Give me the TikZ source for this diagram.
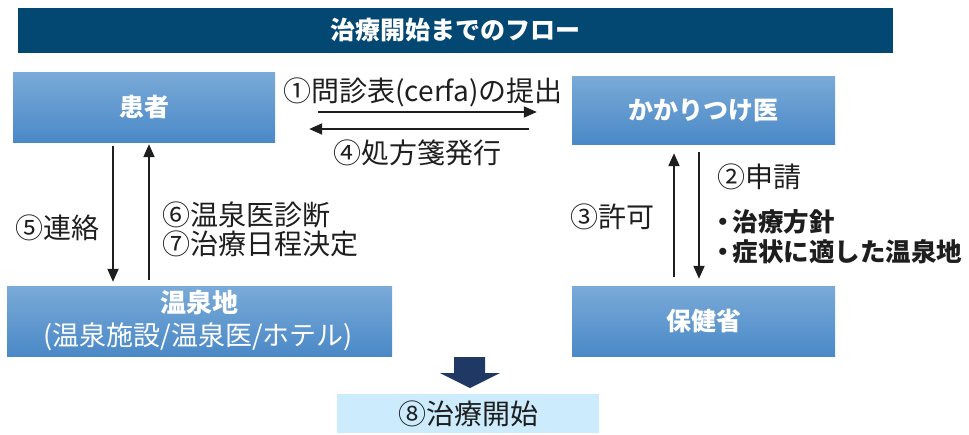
\documentclass[tikz,border=0pt]{standalone}
\usepackage{fontspec}
\setmainfont{Noto Sans CJK JP}
\usetikzlibrary{arrows.meta,calc}
\definecolor{titlebg}{RGB}{3,71,115}
\definecolor{boxtop}{RGB}{122,170,216}
\definecolor{boxbot}{RGB}{74,137,199}
\definecolor{startbg}{RGB}{204,236,253}
\definecolor{navy}{RGB}{31,56,100}
\definecolor{ink}{RGB}{30,30,30}
\begin{document}
\begin{tikzpicture}[x=1pt,y=-1pt,
  bluebox/.style={rectangle, inner sep=0pt, top color=boxtop, bottom color=boxbot, draw=none,
     text=white, font=\fontsize{25}{30}\selectfont\bfseries, align=center},
  lbl/.style={inner sep=0pt, text=ink, font=\fontsize{28}{33}\selectfont},
  blbl/.style={inner sep=0pt, text=ink, font=\fontsize{25.5}{30}\selectfont\bfseries},
  arr/.style={draw=ink, line width=2pt, -{Triangle[length=13pt,width=11pt]}}]
\useasboundingbox (0,0) rectangle (969,434);
% title
\node[fill=titlebg, minimum width=875pt, minimum height=45pt, inner sep=0pt,
      text=white, font=\fontsize{25}{30}\selectfont\bfseries] (title) at (455.5,30.5) {治療開始までのフロー};
% boxes
\node[bluebox, minimum width=262pt, minimum height=70pt] (kanja) at (144,107) {患者};
\node[bluebox, minimum width=263pt, minimum height=68pt] (kakari) at (703.5,110) {かかりつけ医};
\node[bluebox, minimum width=385pt, minimum height=70pt] (onsen) at (199.5,321) {};
\node[text=white, inner sep=0pt, font=\fontsize{26}{31}\selectfont\bfseries] (onsen1) at (199.5,302) {温泉地};
\node[text=white, inner sep=0pt, font=\fontsize{27}{32}\selectfont] (onsen2) at (198,337) {(温泉施設/温泉医/ホテル)};
\node[bluebox, minimum width=263pt, minimum height=70pt] (hoken) at (703.5,321) {保健省};
\node[fill=startbg, minimum width=262pt, minimum height=39pt, inner sep=0pt, text=ink,
      font=\fontsize{28}{33}\selectfont] (start) at (468,413.5) {⑧治療開始};
% big arrow
\fill[navy] (454,357) -- (485,357) -- (485,373) -- (500,373) -- (470,388) -- (440,373) -- (454,373) -- cycle;
% helper coordinates
\coordinate (ya) at (0,112);
\coordinate (yb) at (0,129);
\coordinate (xa) at (113,0);
\coordinate (xb) at (149,0);
\coordinate (xc) at (674,0);
\coordinate (xd) at (699,0);
% horizontal arrows
\draw[arr, shorten <=43pt, shorten >=35pt] (kanja.east |- ya) -- (kakari.west |- ya);
\draw[arr, shorten <=43pt, shorten >=34pt] (kakari.west |- yb) -- (kanja.east |- yb);
% left vertical arrows
\draw[arr, shorten <=4pt, shorten >=4pt] (kanja.south -| xa) -- (onsen.north -| xa);
\draw[arr, shorten <=6pt, shorten >=2pt] (onsen.north -| xb) -- (kanja.south -| xb);
% right vertical arrows
\draw[arr, shorten <=9pt, shorten >=9pt] (hoken.north -| xc) -- (kakari.south -| xc);
\draw[arr, shorten <=8pt, shorten >=7pt] (kakari.south -| xd) -- (hoken.north -| xd);
% labels
\node[lbl] (l1) at (423,92) {①問診表(cerfa)の提出};
\node[lbl] (l4) at (417,153) {④処方箋発行};
\node[lbl] (l5) at (57,228) {⑤連絡};
\node[lbl, anchor=west] (l6) at (162,215) {⑥温泉医診断};
\node[lbl, anchor=west] (l7) at (162,244) {⑦治療日程決定};
\node[lbl] (l3) at (612,217) {③許可};
\node[lbl, anchor=west] (l2) at (717,177) {②申請};
\node[blbl, anchor=west] (b1) at (710,222) {・\kern-0.12em 治療方針};
\node[blbl, anchor=west] (b2) at (710,252) {・\kern-0.12em 症状に適した温泉地};
\end{tikzpicture}
\end{document}
